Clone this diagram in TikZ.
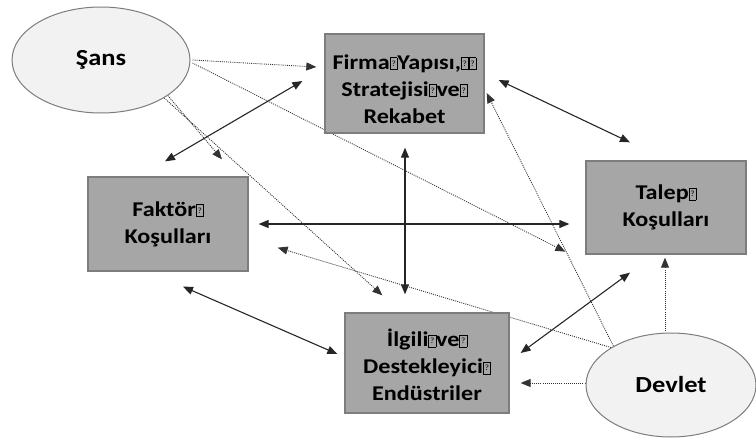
\documentclass[tikz,border=0pt]{standalone}
\usepackage{fontspec}
\setmainfont{Carlito}[FakeStretch=1.15]
\usetikzlibrary{arrows.meta,calc,backgrounds,shapes.geometric}
\definecolor{kutudolgu}{RGB}{166,166,166}
\definecolor{kutucizgi}{RGB}{125,125,125}
\definecolor{ovaldolgu}{RGB}{242,242,242}
\newcommand{\nogl}{{\fboxsep=0pt\fboxrule=0.6pt\fbox{\parbox[b][11.5pt][c]{6.5pt}{\centering\fontsize{8}{8}\mdseries ?}}}}
\newcommand{\ustboy}[1]{\rule{0pt}{#1}}

\begin{document}
\begin{tikzpicture}[x=1pt,y=1pt,yscale=-1,xscale=1,
  kutu/.style={draw=kutucizgi,line width=1.3pt,fill=kutudolgu,align=center,inner sep=0pt,
    font=\fontsize{21}{27}\selectfont\bfseries},
  oval/.style={ellipse,draw=kutucizgi,line width=1pt,fill=ovaldolgu,inner sep=0pt,
    font=\fontsize{23}{27}\selectfont\bfseries},
  ok/.style={line width=1.1pt,draw=black!85,{Triangle[length=10pt,width=8pt]}-{Triangle[length=10pt,width=8pt]}},
  nokta/.style={line width=0.85pt,draw=black!80,dash pattern=on 1pt off 1.1pt,-{Triangle[length=10pt,width=8pt]}}]
\useasboundingbox (0,0) rectangle (756,439);

%Shape: Ellipse
\node [oval,minimum width=178,minimum height=106] (sans) at (101,60) {Şans};
\node [oval,minimum width=170,minimum height=104] (devlet) at (671,385) {Devlet};
%Shape: Rectangle
\node [kutu,minimum width=159,minimum height=99] (firma) at (404.5,83.5)
  {\ustboy{26pt}Firma\nogl Yapısı,\nogl\nogl\\ Stratejisi\nogl ve\nogl\\ Rekabet};
\node [kutu,minimum width=160,minimum height=94] (faktor) at (168,224) {Faktör\nogl\\ Koşulları};
\node [kutu,minimum width=160,minimum height=93] (talep) at (666,207.5) {Talep\nogl\\ Koşulları};
\node [kutu,minimum width=164,minimum height=100] (ilgili) at (427,363)
  {\ustboy{22pt}İlgili\nogl ve\nogl\\ Destekleyici\nogl\\ Endüstriler};

\begin{scope}[on background layer]
%Straight Lines
\draw [ok] ($(faktor.north)+(-3,-15)$) -- ($(firma.west)+(-22,-2.5)$);
\draw [ok] ($(firma.east)+(14,-3.5)$) -- ($(talep.north)+(-36,-18)$);
\draw [ok] ($(firma.south)+(0.5,14)$) -- ($(ilgili.north)+(-22,-18)$);
\draw [ok] ($(faktor.east)+(10,0)$) -- ($(talep.west)+(-16,16.5)$);
\draw [ok] ($(faktor.south)+(15,15)$) -- ($(ilgili.west)+(-7,-9)$);
\draw [ok] ($(ilgili.east)+(11,-10)$) -- ($(talep.south)+(-36,18)$);
%Dotted Lines
\draw [nokta] ($(sans.east)+(2,0)$) -- ($(firma.west)+(-8,-16.5)$);
\draw [nokta] ($(sans.east)+(2,3)$) -- ($(talep.south west)+(-20,-3)$);
\draw [nokta] (sans.-28) -- ($(faktor.north)+(54,-17)$);
\draw [nokta] (sans.-31) -- ($(ilgili.north west)+(38,-17)$);
\draw [nokta] ($(devlet.west)+(0,-2)$) -- ($(ilgili.east)+(11,20)$);
\draw [nokta] ($(devlet.north)+(-6,1)$) -- ($(talep.south)+(-1,3)$);
\draw [nokta] (devlet.148) -- ($(faktor.south east)+(29,-24)$);
\draw [nokta] (devlet.146) -- ($(firma.east)+(2,9.5)$);
\end{scope}
\end{tikzpicture}
\end{document}
